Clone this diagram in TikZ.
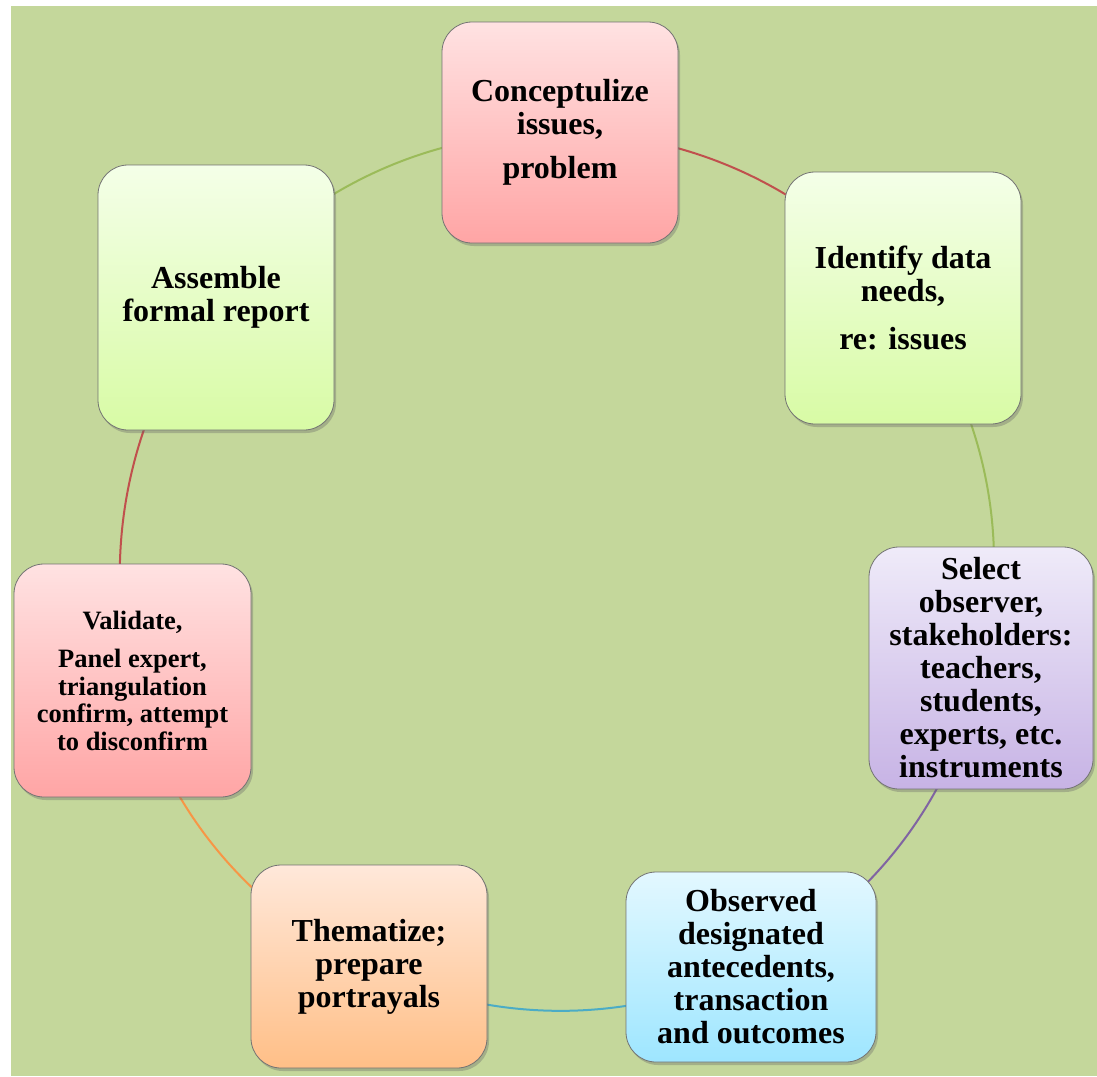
\documentclass[tikz,border=0pt]{standalone}
\usepackage{fontspec}
\setmainfont{Liberation Serif}
\usetikzlibrary{shadows}
\pgfdeclarelayer{back}
\pgfdeclarelayer{links}
\pgfsetlayers{back,links,main}
\definecolor{bggreen}{HTML}{C4D79B}
\definecolor{pinkTop}{HTML}{FFE2E2}
\definecolor{pinkBot}{HTML}{FFA5A5}
\definecolor{greenTop}{HTML}{F4FFE8}
\definecolor{greenBot}{HTML}{D8FBA5}
\definecolor{purpleTop}{HTML}{EFEBF9}
\definecolor{purpleBot}{HTML}{C7B3E5}
\definecolor{blueTop}{HTML}{E3F8FF}
\definecolor{blueBot}{HTML}{9EE6FF}
\definecolor{orangeTop}{HTML}{FFE8DA}
\definecolor{orangeBot}{HTML}{FFBF87}
\definecolor{lnred}{HTML}{C0504D}
\definecolor{lngreen}{HTML}{9BBB59}
\definecolor{lnpurple}{HTML}{8064A2}
\definecolor{lnblue}{HTML}{4BACC6}
\definecolor{lnorange}{HTML}{F79646}
\tikzset{
  stepbox/.style={rectangle, rounded corners=30pt, draw=black!55, line width=0.8pt,
    align=center, inner sep=4pt, font=\fontsize{32}{33}\selectfont\bfseries,
    drop shadow={shadow xshift=2pt, shadow yshift=-3pt, opacity=0.35, fill=black!60}},
  pinkbox/.style={stepbox, top color=pinkTop, bottom color=pinkBot},
  greenbox/.style={stepbox, top color=greenTop, bottom color=greenBot},
  purplebox/.style={stepbox, top color=purpleTop, bottom color=purpleBot},
  bluebox/.style={stepbox, top color=blueTop, bottom color=blueBot},
  orangebox/.style={stepbox, top color=orangeTop, bottom color=orangeBot},
  link/.style={line width=2pt, bend left=26, looseness=0.9},
}
\begin{document}
\begin{tikzpicture}[x=1pt, y=1pt]
\useasboundingbox (0,0) rectangle (1097,-1076);
\begin{pgfonlayer}{back}
  \fill[bggreen] (11,-6) rectangle (1097,-1076);
\end{pgfonlayer}

\node[pinkbox, minimum width=236pt, minimum height=221pt] (c) at (560,-132.5)
  {Conceptulize\\ issues,\\[11pt] problem};
\node[greenbox, minimum width=236pt, minimum height=252pt] (i) at (903,-298)
  {Identify data\\ needs,\\[15pt] re: issues};
\node[purplebox, minimum width=224pt, minimum height=242pt] (s) at (981,-668)
  {Select\\ observer,\\ stakeholders:\\ teachers,\\ students,\\ experts, etc.\\ instruments};
\node[bluebox, minimum width=250pt, minimum height=190pt] (o) at (751,-967)
  {Observed\\ designated\\ antecedents,\\ transaction\\ and outcomes};
\node[orangebox, minimum width=236pt, minimum height=203pt] (t) at (369,-966.5)
  {Thematize;\\ prepare\\ portrayals};
\node[pinkbox, minimum width=237pt, minimum height=233pt, font=\fontsize{26.5}{27.5}\selectfont\bfseries] (v) at (132.5,-680.5)
  {Validate,\\[11pt] Panel expert,\\ triangulation\\ confirm, attempt\\ to disconfirm};
\node[greenbox, minimum width=236pt, minimum height=265pt] (a) at (216,-297.5)
  {Assemble\\ formal report};

\begin{pgfonlayer}{links}
  \draw[link, lnred] (c.center) to (i.center);
  \draw[link, lngreen] (i.center) to (s.center);
  \draw[link, lnpurple] (s.center) to (o.center);
  \draw[link, lnblue] (o.center) to (t.center);
  \draw[link, lnorange] (t.center) to (v.center);
  \draw[link, lnred] (v.center) to (a.center);
  \draw[link, lngreen] (a.center) to (c.center);
\end{pgfonlayer}
\end{tikzpicture}
\end{document}
